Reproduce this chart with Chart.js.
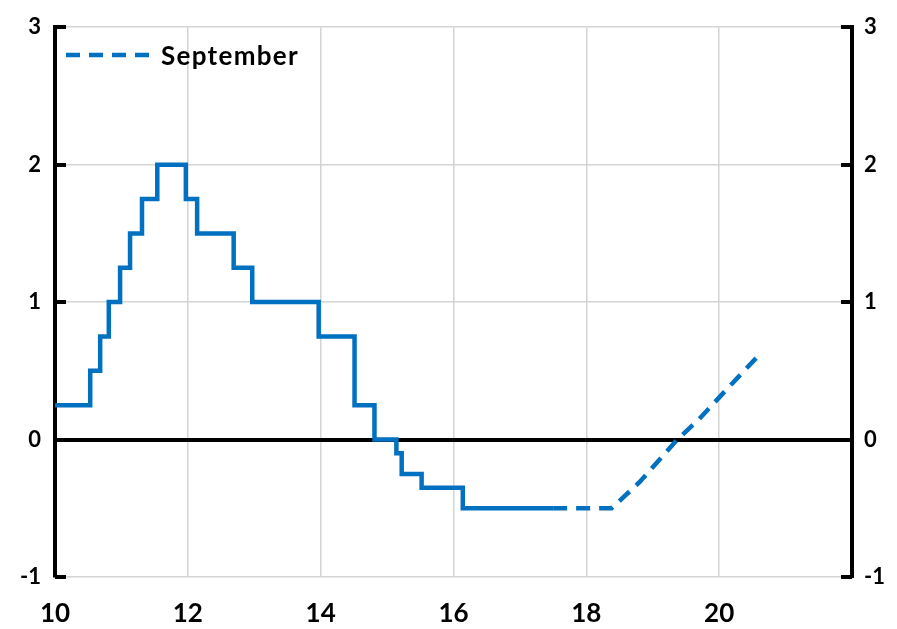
<!DOCTYPE html>
<html lang="en">
<head>
    <meta charset="UTF-8">
    <title>September</title>
    <style>
        body { margin: 0; background: #fff; font-family: Lato, "Open Sans", sans-serif; }
        #wrap { position: relative; width: 897px; height: 629px; }
        #legend { position: absolute; left: 66px; top: 39px; display: flex; align-items: center; }
        #legend span { font-weight: bold; font-size: 26px; letter-spacing: 1.3px; color: #000; margin-left: 9px; }
    </style>
    <script src="https://cdn.jsdelivr.net/npm/chart.js"></script>
</head>
<body>
<div id="wrap">
    <canvas id="chart" width="897" height="629"></canvas>
    <div id="legend">
        <svg width="86" height="10"><line x1="0" y1="5" x2="86" y2="5" stroke="#0070C0" stroke-width="4.5" stroke-dasharray="14 9"/></svg>
        <span>September</span>
    </div>
</div>
<script>
    // step path (solid), x = change point, y = new level
    const stepX = [10, 10.53, 10.68, 10.81, 10.98, 11.13, 11.31, 11.54, 11.97, 12.14, 12.69, 12.97, 13.97, 14.51, 14.81, 15.14, 15.22, 15.52, 16.14, 17.5];
    const stepY = [0.25, 0.5, 0.75, 1.0, 1.25, 1.5, 1.75, 2.0, 1.75, 1.5, 1.25, 1.0, 0.75, 0.25, 0, -0.1, -0.25, -0.35, -0.5, -0.5];

    // September path (dashed)
    const sepX = [17.5, 18.38, 18.8, 19.37, 19.7, 20.2, 20.63];
    const sepY = [-0.5, -0.5, -0.31, 0, 0.15, 0.41, 0.63];

    const xTicks = [10, 12, 14, 16, 18, 20];
    const yTicks = [-1, 0, 1, 2, 3];

    const blue = '#0070C0';
    const yFont = { family: 'Lato', size: 22, weight: 'bold' };
    const xFont = { family: 'Lato', size: 26, weight: 'bold' };

    // short inward tick marks on both vertical axes
    const axisTicks = {
        id: 'axisTicks',
        afterDraw(chart) {
            const ctx = chart.ctx;
            const area = chart.chartArea;
            ctx.save();
            ctx.strokeStyle = '#000';
            ctx.lineWidth = 4;
            yTicks.forEach(v => {
                const py = Math.round(chart.scales.y.getPixelForValue(v));
                ctx.beginPath();
                ctx.moveTo(area.left, py);
                ctx.lineTo(area.left + 11, py);
                ctx.moveTo(area.right - 11, py);
                ctx.lineTo(area.right, py);
                ctx.stroke();
            });
            ctx.restore();
        }
    };

    new Chart(document.getElementById('chart'), {
        type: 'line',
        data: {
            datasets: [{
                label: 'step',
                data: stepX.map((x, i) => ({ x: x, y: stepY[i] })),
                borderColor: blue,
                borderWidth: 4.5,
                stepped: true,
                pointRadius: 0,
                fill: false
            }, {
                label: 'September',
                data: sepX.map((x, i) => ({ x: x, y: sepY[i] })),
                borderColor: blue,
                borderWidth: 4.5,
                borderDash: [14, 9],
                tension: 0,
                pointRadius: 0,
                fill: false
            }]
        },
        options: {
            responsive: false,
            animation: false,
            layout: { padding: { top: 27, left: 0, right: 0, bottom: 0 } },
            plugins: { legend: { display: false }, tooltip: { enabled: false } },
            scales: {
                x: {
                    type: 'linear',
                    min: 10,
                    max: 22,
                    afterFit: s => { s.height = 52; },
                    afterBuildTicks: s => { s.ticks = xTicks.concat([22]).map(v => ({ value: v })); },
                    ticks: {
                        autoSkip: false,
                        maxRotation: 0,
                        padding: 21,
                        color: '#000',
                        font: xFont,
                        callback: v => (v === 22 ? '' : v)
                    },
                    grid: { color: '#d4d4d4', lineWidth: 1.5, drawTicks: false },
                    border: { display: false }
                },
                y: {
                    position: 'left',
                    min: -1,
                    max: 3,
                    afterFit: s => { s.width = 55; },
                    afterBuildTicks: s => { s.ticks = yTicks.map(v => ({ value: v })); },
                    ticks: { padding: 14, color: '#000', font: yFont },
                    grid: {
                        drawTicks: false,
                        color: c => (c.tick && c.tick.value === 0 ? '#000' : '#d4d4d4'),
                        lineWidth: c => (c.tick && c.tick.value === 0 ? 4 : 1.5)
                    },
                    border: { color: '#000', width: 4 }
                },
                y2: {
                    position: 'right',
                    min: -1,
                    max: 3,
                    afterFit: s => { s.width = 45; },
                    afterBuildTicks: s => { s.ticks = yTicks.map(v => ({ value: v })); },
                    ticks: { padding: 12, color: '#000', font: yFont },
                    grid: { display: false, drawTicks: false },
                    border: { color: '#000', width: 4 }
                }
            }
        },
        plugins: [axisTicks]
    });
</script>
</body>
</html>
